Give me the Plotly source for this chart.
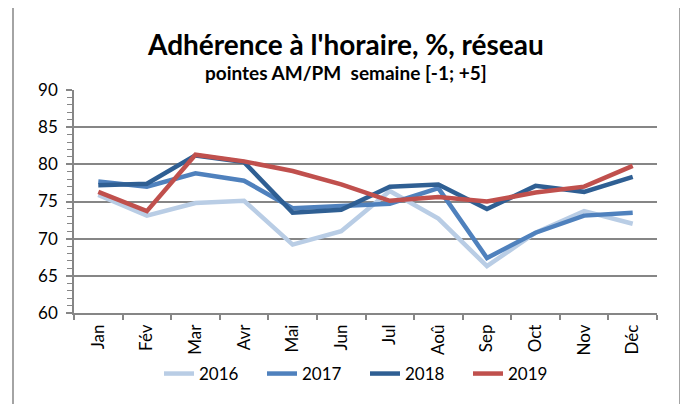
import plotly.graph_objects as go

months = ["Jan", "Fév", "Mar", "Avr", "Mai", "Jun", "Jul", "Aoû", "Sep", "Oct", "Nov", "Déc"]
y2016 = [75.9, 73.1, 74.8, 75.1, 69.2, 71.0, 76.4, 72.7, 66.3, 70.8, 73.7, 72.0]
y2017 = [77.7, 77.0, 78.8, 77.8, 74.1, 74.4, 74.7, 76.8, 67.4, 70.8, 73.1, 73.5]
y2018 = [77.2, 77.4, 81.2, 80.3, 73.5, 73.9, 77.0, 77.3, 74.0, 77.1, 76.3, 78.3]
y2019 = [76.3, 73.7, 81.3, 80.4, 79.1, 77.3, 75.1, 75.6, 75.0, 76.2, 77.0, 79.8]
series = [("2016", y2016, "#B9CDE5"), ("2017", y2017, "#4F81BD"),
          ("2018", y2018, "#2F5F93"), ("2019", y2019, "#C0504D")]

FONT = "Lato"
GRAY = "#868686"
# page has an 8px body margin: figure is drawn from (8, 8)
W, H = 680, 396

fig = go.Figure()
for name, ys, col in series:
    fig.add_trace(go.Scatter(x=months, y=ys, name=name, mode="lines",
                             line=dict(color=col, width=4.5)))

fig.update_layout(
    width=W, height=H,
    margin=dict(l=66, r=31, t=82, b=91, autoexpand=False),
    paper_bgcolor="white", plot_bgcolor="white",
    font=dict(family=FONT, size=17, color="black"),
    showlegend=True,
    legend=dict(orientation="h", x=151 / W, xref="container", xanchor="left",
                y=(H - 366) / H, yref="container", yanchor="middle",
                bgcolor="rgba(0,0,0,0)",
                font=dict(size=17), entrywidth=58, entrywidthmode="pixels",
                traceorder="normal"),
    xaxis=dict(type="category", range=[-0.5, 11.5], tickson="boundaries", automargin=False,
               ticks="outside", ticklen=5, tickcolor=GRAY, tickwidth=1.5,
               showline=True, linecolor=GRAY, linewidth=1.5, showgrid=False,
               tickangle=-90, tickfont=dict(size=17), ticklabelstandoff=3),
    yaxis=dict(range=[60, 90], dtick=5, ticks="outside", ticklen=6, tickcolor=GRAY,
               tickwidth=1.5, showline=True, linecolor=GRAY, linewidth=1.5, automargin=False,
               showgrid=True, gridcolor=GRAY, gridwidth=1.5, zeroline=False,
               tickfont=dict(size=17), ticklabelstandoff=5,
               minor=dict(dtick=1, ticks="outside", ticklen=5, tickcolor=GRAY,
                          tickwidth=1, showgrid=False)),
    annotations=[
        dict(text="<b>Adhérence à l'horaire, %, réseau</b>", xref="paper", yref="paper",
             x=0.466, y=(313 - 44) / 223, xanchor="center", yanchor="middle",
             showarrow=False, font=dict(size=28, family=FONT)),
        dict(text="<b>pointes AM/PM  semaine [-1; +5]</b>", xref="paper", yref="paper",
             x=0.466, y=(313 - 72) / 223, xanchor="center", yanchor="middle",
             showarrow=False, font=dict(size=19, family=FONT)),
    ],
    shapes=[dict(type="rect", xref="paper", yref="paper",
                 x0=(13 - 74) / 583, x1=(680 - 74) / 583,
                 y0=(313 - 420) / 223, y1=(313 - 6) / 223,
                 line=dict(color=GRAY, width=1.5), fillcolor="rgba(0,0,0,0)", layer="below")],
)

fig.write_html("out.html")
